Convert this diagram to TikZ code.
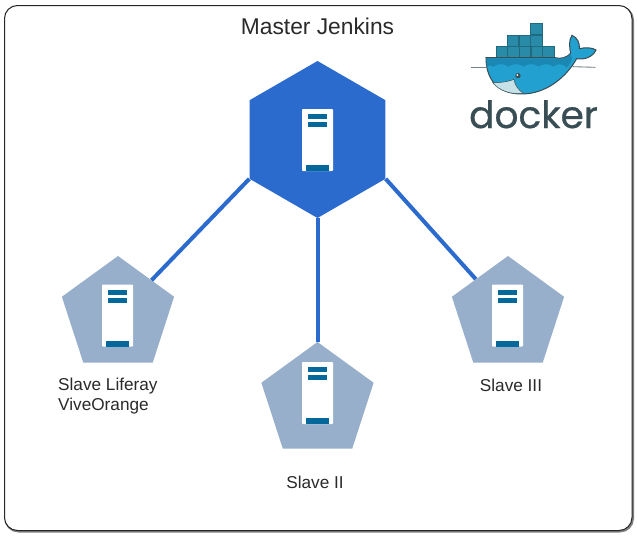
\documentclass[tikz,border=0pt]{standalone}
\usepackage{fontspec}
\setmainfont{Liberation Sans}
\newfontfamily\dockerfont[FakeBold=0.6]{Poppins}
\usetikzlibrary{shapes.geometric}
\definecolor{masterblue}{HTML}{2B6BCE}
\definecolor{slavegrey}{HTML}{98AFCB}
\definecolor{serverteal}{HTML}{04689A}
\definecolor{labeltext}{HTML}{2A2A2A}
\definecolor{dockerdark}{HTML}{394D54}
\definecolor{dockerblue}{HTML}{22A0CF}
\definecolor{dockerband}{HTML}{1B88B4}
\definecolor{dockerbox}{HTML}{2A8BA8}
\definecolor{dockeredge}{HTML}{1F6A80}
\definecolor{dockerbelly}{HTML}{C6E2E8}
\tikzset{
  masterhex/.style={regular polygon,regular polygon sides=6,shape border rotate=30,minimum size=157pt,inner sep=0pt,fill=masterblue},
  slavepent/.style={regular polygon,regular polygon sides=5,minimum size=118pt,inner sep=0pt,fill=slavegrey},
  link/.style={draw=masterblue,line width=4pt},
  lbl/.style={font=\fontsize{17.2}{20}\selectfont,text=labeltext,inner sep=0pt},
  dockbox/.style={fill=dockerbox,draw=dockeredge,line width=0.7pt},
  server/.pic={
    \fill[white,rounded corners=0.8pt] (-15.5,-31) rectangle (15.5,31);
    \fill[serverteal] (-9.5,-26) rectangle (9.5,-21);
    \fill[serverteal] (-9.5,-18) rectangle (9.5,-13);
    \fill[serverteal] (-11.5,25) rectangle (11.5,31);
  }
}
\begin{document}
\begin{tikzpicture}[x=1pt,y=-1pt]
\useasboundingbox (0,0) rectangle (637,538);
\fill[white] (0,0) rectangle (637,538);
% frame with its soft shadow
\draw[black!50,line width=2pt,rounded corners=13pt] (5.5,7) rectangle (633,531.5);
\draw[black!85,line width=1pt,fill=white,rounded corners=13pt] (4.5,5.5) rectangle (632,530.5);
% graph
\node[slavepent] (slaveA) at (118,315) {};
\node[slavepent] (slaveB) at (317.5,401) {};
\node[slavepent] (slaveC) at (508,315) {};
\node[masterhex] (master) at (317.5,139.5) {};
\draw[link] (master.corner 3) -- (slaveA);
\draw[link] (master.corner 4) -- (slaveB);
\draw[link] (master.corner 5) -- (slaveC);
\pic at (317.5,140) {server};
\pic at (117.5,315.5) {server};
\pic at (317.5,393) {server};
\pic at (507.5,315.5) {server};
% labels
\node[font=\fontsize{22.8}{26}\selectfont,text=labeltext,inner sep=0pt] (title) at (317.5,26) {Master Jenkins};
\node[lbl,align=left,anchor=north west] (labelA) at (58,377.5) {Slave Liferay\\[0pt]ViveOrange};
\node[lbl] (labelB) at (315,482) {Slave II};
\node[lbl] (labelC) at (511,385) {Slave III};
% docker logo
\begin{scope}[shift={(440,10)},x=0.3333pt,y=-0.3333pt]
  \foreach \cx/\cy in {168/110,203/110,238/110,273/110,308/110,202/75,237/75,272/75,272/39}
    \filldraw[dockbox] (\cx,\cy) rectangle ++(34,34);
  \draw[dockerdark!70,line width=0.9pt] (92,172) -- (138,172);
  \draw[dockerdark!70,line width=0.9pt] (398,170) -- (466,172);
  % whale body
  \filldraw[fill=dockerblue,draw=dockerdark,line width=1pt]
    (138,143) -- (345,143) .. controls (362,148) and (380,143) .. (392,130)
    .. controls (388,110) and (386,90) .. (396,76)
    .. controls (412,82) and (420,100) .. (418,116)
    .. controls (436,112) and (456,112) .. (468,120)
    .. controls (458,142) and (432,150) .. (410,146)
    .. controls (380,200) and (320,252) .. (245,252)
    .. controls (180,252) and (138,215) .. (138,143) -- cycle;
  % upper band with waves
  \fill[dockerband]
    (140,145) -- (345,145) .. controls (362,150) and (380,145) .. (392,132)
    -- (396,146) .. controls (394,155) and (388,165) .. (380,173)
    .. controls (368,160) and (352,160) .. (340,170)
    .. controls (325,160) and (310,160) .. (296,170)
    .. controls (282,160) and (265,160) .. (250,170)
    .. controls (236,160) and (220,160) .. (205,170)
    .. controls (192,160) and (175,160) .. (160,170)
    .. controls (152,165) and (146,165) .. (140,170) -- cycle;
  % belly
  \filldraw[fill=dockerbelly,draw=dockerdark,line width=0.5pt]
    (158,218) .. controls (185,218) and (205,215) .. (222,208)
    .. controls (224,225) and (235,240) .. (250,250)
    .. controls (210,254) and (178,242) .. (158,218) -- cycle;
  % eye
  \fill[dockerdark] (234,197) circle (8);
  \fill[white] (232,195) circle (3);
\end{scope}
\node[font=\dockerfont\fontsize{37.5}{38}\selectfont,text=dockerdark,inner sep=0pt,anchor=base] (dockerword) at (533.5,128) {docker};
\end{tikzpicture}
\end{document}
